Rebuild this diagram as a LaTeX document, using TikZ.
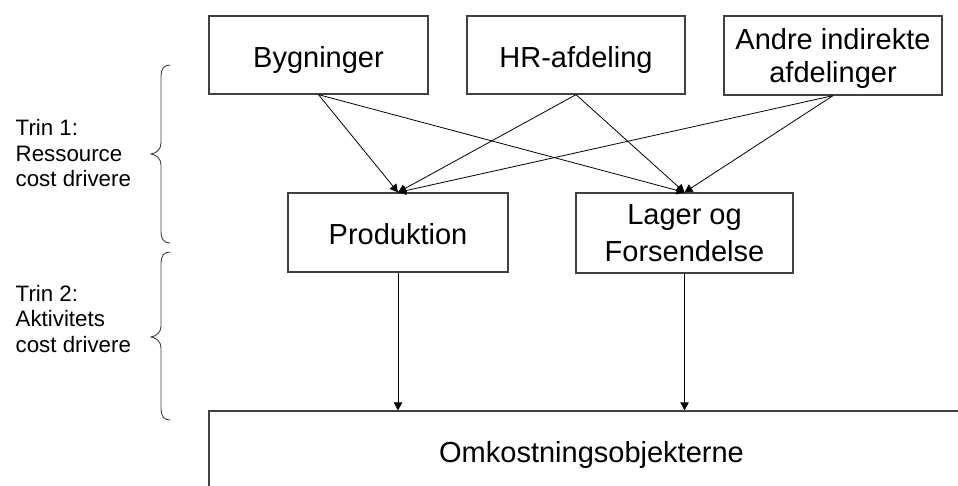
\documentclass[tikz,border=0pt]{standalone}
\usepackage{fontspec}
\setmainfont{Liberation Sans}
\usetikzlibrary{arrows.meta}

\begin{document}
\begin{tikzpicture}[x=1pt,y=-1pt,
  box/.style={draw=black!75, line width=1.3pt, inner sep=0pt, align=center,
    font=\fontsize{29}{33}\selectfont},
  oneline/.style={text height=24pt, text depth=0pt},
  link/.style={line width=0.8pt, -{Triangle[length=8pt,width=8.5pt]}},
  note/.style={align=left, inner sep=0pt, anchor=west,
    font=\fontsize{22.3}{25.5}\selectfont},
  brace/.style={line width=0.9pt, draw=black!75}]
\clip (0,0) rectangle (958,485);
\useasboundingbox (0,0) rectangle (958,485);

% resource pools
\node[box, oneline, minimum width=219pt, minimum height=78pt] (byg) at (318.5,55) {Bygninger};
\node[box, oneline, minimum width=218pt, minimum height=78pt] (hr) at (576,55) {HR-afdeling};
\node[box, minimum width=218pt, minimum height=79pt,
      font=\fontsize{29}{33}\selectfont] (andre) at (833,55.5)
      {\rule{0pt}{28pt}Andre indirekte\\afdelinger};

% activities
\node[box, oneline, minimum width=220pt, minimum height=79pt] (prod) at (398,232.5) {Produktion};
\node[box, minimum width=217pt, minimum height=80pt,
      font=\fontsize{29}{37}\selectfont] (lager) at (684.5,233)
      {Lager og\\Forsendelse};

% cost objects
\node[box, oneline, minimum width=765pt, minimum height=78pt] (omk) at (591.5,450) {Omkostningsobjekterne};

% resource cost drivers
\foreach \src in {byg, hr, andre} {
  \draw[link] (\src.south) -- (prod.north);
  \draw[link] (\src.south) -- (lager.north);
}

% activity cost drivers
\draw[link] (prod.south) -- (prod.south |- omk.north);
\draw[link] (lager.south) -- (lager.south |- omk.north);

% step braces
\draw[brace] (170,65) .. controls (164,65) and (161,69) .. (161,76)
  -- (161,143) .. controls (161,149) and (157,153) .. (151,154)
  .. controls (157,155) and (161,159) .. (161,165)
  -- (161,232) .. controls (161,239) and (164,243) .. (170,243);
\draw[brace] (170,252) .. controls (164,252) and (161,256) .. (161,263)
  -- (161,326) .. controls (161,332) and (157,336) .. (151,337)
  .. controls (157,338) and (161,342) .. (161,348)
  -- (161,409) .. controls (161,416) and (164,420) .. (170,420);

\node[note] (trin1) at (15.5,153.5) {Trin 1:\\Ressource\\cost drivere};
\node[note] (trin2) at (15.5,319) {Trin 2:\\Aktivitets\\cost drivere};
\end{tikzpicture}
\end{document}
